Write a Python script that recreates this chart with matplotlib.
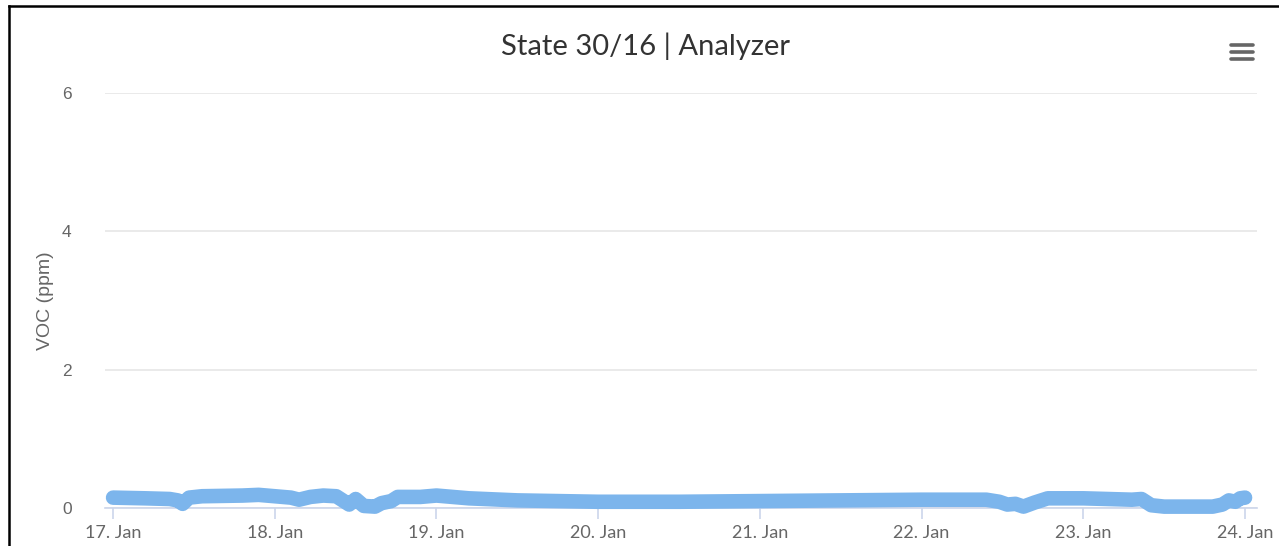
import datetime as dt
import matplotlib
matplotlib.use("Agg")
import matplotlib.pyplot as plt
import matplotlib.dates as mdates
from matplotlib.lines import Line2D

# ---- data ----
title = "State 30/16 | Analyzer"
y_label = "VOC (ppm)"
start_day = dt.datetime(2023, 1, 17)
day_offsets = [0.00, 0.20, 0.35, 0.40, 0.43, 0.47, 0.55, 0.80, 0.90, 1.00,
               1.10, 1.15, 1.22, 1.30, 1.38, 1.42, 1.46, 1.50, 1.55, 1.62,
               1.66, 1.72, 1.76, 1.90, 2.00, 2.20, 2.50, 3.00, 3.50, 4.00,
               4.50, 5.00, 5.40, 5.48, 5.53, 5.58, 5.63, 5.70, 5.78, 6.00,
               6.30, 6.36, 6.42, 6.50, 6.80, 6.86, 6.90, 6.94, 6.97, 7.00]
voc_ppm = [0.15, 0.14, 0.13, 0.11, 0.06, 0.15, 0.17, 0.18, 0.19, 0.17,
           0.15, 0.12, 0.16, 0.18, 0.17, 0.11, 0.05, 0.13, 0.03, 0.02,
           0.07, 0.10, 0.16, 0.16, 0.18, 0.14, 0.11, 0.09, 0.09, 0.10,
           0.11, 0.12, 0.12, 0.09, 0.05, 0.06, 0.02, 0.08, 0.14, 0.14,
           0.12, 0.13, 0.04, 0.02, 0.02, 0.05, 0.11, 0.09, 0.14, 0.15]
x_tick_days = [0, 1, 2, 3, 4, 5, 6, 7]
y_ticks = [0, 2, 4, 6]

times = [start_day + dt.timedelta(days=d) for d in day_offsets]
tick_times = [start_day + dt.timedelta(days=d) for d in x_tick_days]

W, H = 1279, 546
fig = plt.figure(figsize=(W / 100, H / 100), dpi=100)
fig.patch.set_facecolor("white")

# axes placement in pixels
left_px, right_px, top_px, bottom_px = 105, 1257, 93, 508
ax = fig.add_axes([left_px / W, (H - bottom_px) / H,
                   (right_px - left_px) / W, (bottom_px - top_px) / H])

ax.plot(times, voc_ppm, color="#7cb5ec", linewidth=10.5,
        solid_capstyle="round", solid_joinstyle="round", clip_on=False, zorder=3)

ax.set_ylim(0, 6)
ax.set_yticks(y_ticks)
ax.set_xlim(start_day - dt.timedelta(days=0.05), start_day + dt.timedelta(days=7.074))
ax.set_xticks(tick_times)
ax.xaxis.set_major_formatter(mdates.DateFormatter("%d. %b"))

ax.grid(axis="y", color="#e6e6e6", linewidth=1.2)
ax.set_axisbelow(True)
for s in ["top", "right", "left"]:
    ax.spines[s].set_visible(False)
ax.spines["bottom"].set_color("#ccd6eb")
ax.spines["bottom"].set_linewidth(1.2)

ax.tick_params(axis="y", length=0, pad=24, labelsize=12.5, labelcolor="#666666")
ax.tick_params(axis="x", length=8, width=1.2, color="#ccd6eb", pad=4.5,
               labelsize=13, labelcolor="#666666")
for lab in ax.get_xticklabels():
    lab.set_family("Lato")
for lab in ax.get_yticklabels():
    lab.set_family("Liberation Sans")

ax.set_ylabel(y_label, fontsize=14, color="#666666", family="Liberation Sans",
              va="center", ha="center")
ax.yaxis.set_label_coords((45 - left_px) / (right_px - left_px), 0.5)

fig.text(645 / W, 1 - 46 / H, title, ha="center", va="center",
         fontsize=21, color="#333333", family="Lato")

# hamburger menu icon
for yy in (45, 52, 59):
    fig.add_artist(Line2D([1231 / W, 1253 / W], [1 - yy / H, 1 - yy / H],
                          color="#666666", linewidth=2.6, solid_capstyle="round"))

# outer frame (left + top)
fig.add_artist(Line2D([9 / W, 9 / W], [0, 1 - 6 / H], color="black", linewidth=1.8))
fig.add_artist(Line2D([9 / W, 1], [1 - 6 / H, 1 - 6 / H], color="black", linewidth=1.8))

fig.savefig("out.png", dpi=100)
